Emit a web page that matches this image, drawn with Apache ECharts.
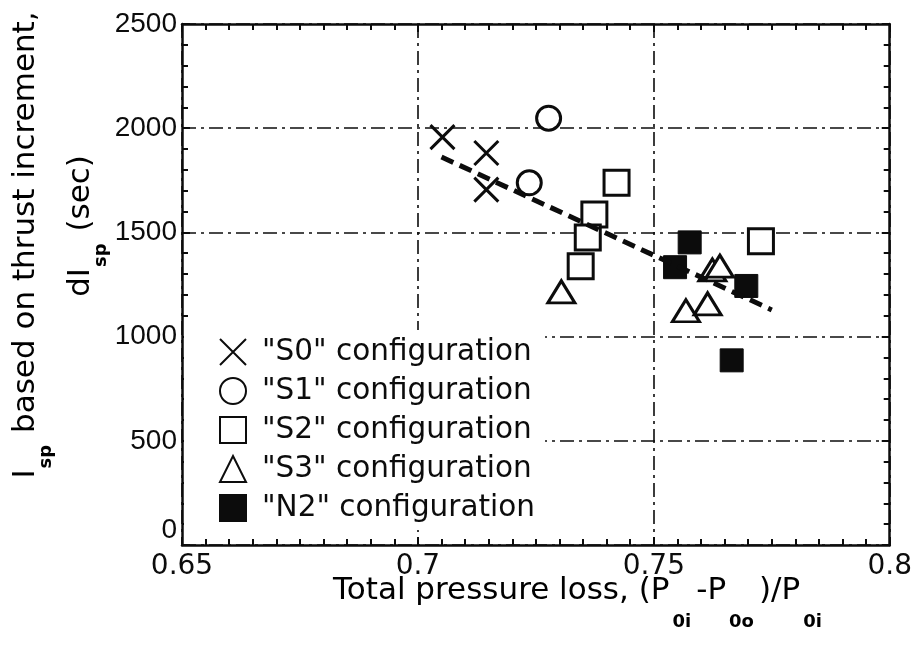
<!DOCTYPE html>
<html>
<head>
<meta charset="utf-8">
<script src="https://cdn.jsdelivr.net/npm/echarts@6/dist/echarts.min.js"></script>
<style>
html,body{margin:0;padding:0;background:#fff;}
#c{width:915px;height:651px;}
</style>
</head>
<body>
<div id="c"></div>
<script>
// ---- data ----
const xTickLabels = ['0.65', '0.7', '0.75', '0.8'];
const yTickLabels = ['0', '500', '1000', '1500', '2000', '2500'];

const s0X = [0.7052, 0.7145, 0.7145];
const s0Y = [1957, 1881, 1705];
const s1X = [0.7277, 0.7236];
const s1Y = [2048, 1738];
const s2X = [0.7421, 0.7374, 0.7360, 0.7345, 0.7727];
const s2Y = [1738, 1586, 1476, 1338, 1457];
const s3X = [0.7304, 0.7568, 0.7614, 0.7624, 0.7640];
const s3Y = [1215, 1124, 1157, 1320, 1338];
const n2X = [0.7576, 0.7545, 0.7696, 0.7665];
const n2Y = [1452, 1333, 1243, 886];
const trendX = [0.705, 0.775];
const trendY = [1862, 1128];

const seriesNames = ['"S0" configuration', '"S1" configuration', '"S2" configuration', '"S3" configuration', '"N2" configuration'];

function pairs(xs, ys) { return xs.map((x, i) => [x, ys[i]]); }

const FONT = '"Liberation Sans", Arial, sans-serif';
const WFONT = '"DejaVu Sans", sans-serif';
const INK = '#0c0c0c';
const crossPath = 'path://M0,0L10,10M10,0L0,10';
const dashDot = [14, 5, 3, 5];

const chart = echarts.init(document.getElementById('c'), null, {renderer: 'canvas'});

const axisCommonX = {
  type: 'value', min: 0.65, max: 0.8, interval: 0.05,
  axisLine: {show: true, onZero: false, lineStyle: {color: INK, width: 2.5}},
  axisTick: {show: true, inside: true, length: 8, lineStyle: {color: INK, width: 2}},
  minorTick: {show: true, splitNumber: 10, length: 6, lineStyle: {color: INK, width: 2}}
};
const axisCommonY = {
  type: 'value', min: 0, max: 2500, interval: 500,
  axisLine: {show: true, onZero: false, lineStyle: {color: INK, width: 2.5}},
  axisTick: {show: true, inside: true, length: 8, lineStyle: {color: INK, width: 2}},
  minorTick: {show: true, splitNumber: 5, length: 6, lineStyle: {color: INK, width: 2}}
};

const subStyle = {fontFamily: WFONT, fontSize: 18, fontWeight: 'bold', color: INK, lineHeight: 18, verticalAlign: 'top'};
const mainStyle = {fontFamily: WFONT, fontSize: 31, color: INK, lineHeight: 34, verticalAlign: 'top'};

const option = {
  backgroundColor: '#fff',
  animation: false,
  grid: {left: 182, right: 25, top: 24, bottom: 106, containLabel: false},
  xAxis: [
    Object.assign({}, axisCommonX, {
      position: 'bottom',
      axisLabel: {
        show: true, margin: 8, color: INK, fontFamily: WFONT, fontSize: 28,
        formatter: v => {
          const i = Math.round((v - 0.65) / 0.05);
          return xTickLabels[i] !== undefined ? xTickLabels[i] : '';
        }
      },
      splitLine: {show: true, lineStyle: {color: INK, width: 1.6, type: dashDot}}
    }),
    Object.assign({}, axisCommonX, {
      position: 'top',
      axisLabel: {show: false},
      splitLine: {show: false}
    })
  ],
  yAxis: [
    Object.assign({}, axisCommonY, {
      position: 'left',
      axisLabel: {
        show: true, margin: 5, color: INK, fontFamily: FONT, fontSize: 28,
        formatter: v => {
          const i = Math.round(v / 500);
          const t = yTickLabels[i] !== undefined ? yTickLabels[i] : '';
          return i === 0 ? '{z|' + t + '}' : t;
        },
        rich: {z: {fontFamily: FONT, fontSize: 28, color: INK, padding: [0, 0, 30, 0]}}
      },
      splitLine: {show: true, lineStyle: {color: INK, width: 1.6, type: dashDot}}
    }),
    Object.assign({}, axisCommonY, {
      position: 'right',
      axisLabel: {show: false},
      splitLine: {show: false}
    })
  ],
  legend: {
    show: true,
    data: seriesNames,
    orient: 'vertical',
    left: 184, top: 330,
    padding: [6, 10, 6, 35],
    itemGap: 7,
    itemWidth: 26, itemHeight: 26,
    backgroundColor: '#fff',
    textStyle: {fontFamily: WFONT, fontSize: 29.5, color: INK, lineHeight: 32, padding: [0, 0, 0, 11]},
    selectedMode: false
  },
  graphic: [
    {
      type: 'text', x: 10, y: 245, rotation: Math.PI / 2, silent: true,
      style: {
        text: '{a|I}{s|sp}{a| based on thrust increment,}',
        align: 'center', verticalAlign: 'top',
        rich: {a: mainStyle, s: Object.assign({}, subStyle, {padding: [27, 2, 0, 1]})}
      }
    },
    {
      type: 'text', x: 65, y: 226, rotation: Math.PI / 2, silent: true,
      style: {
        text: '{a|dI}{s|sp}{a| (sec)}',
        align: 'center', verticalAlign: 'top',
        rich: {a: mainStyle, s: Object.assign({}, subStyle, {padding: [27, 2, 0, 1]})}
      }
    },
    {
      type: 'text', x: 580, y: 575, silent: true,
      style: {
        text: '{a|Total pressure loss, (P}{s|0i}{a|-P}{s|0o}{a|)/P}{s|0i}',
        align: 'center', verticalAlign: 'top',
        rich: {a: mainStyle, s: Object.assign({}, subStyle, {padding: [38, 5, 0, 3]})}
      }
    }
  ],
  series: [
    {
      name: seriesNames[0], type: 'scatter', data: pairs(s0X, s0Y),
      symbol: crossPath, symbolSize: 24,
      itemStyle: {color: 'rgba(0,0,0,0)', borderColor: INK, borderWidth: 3, opacity: 1}, z: 3
    },
    {
      name: seriesNames[1], type: 'scatter', data: pairs(s1X, s1Y),
      symbol: 'circle', symbolSize: 24,
      itemStyle: {color: '#fff', borderColor: INK, borderWidth: 3, opacity: 1}, z: 3
    },
    {
      name: seriesNames[2], type: 'scatter', data: pairs(s2X, s2Y),
      symbol: 'rect', symbolSize: 25,
      itemStyle: {color: '#fff', borderColor: INK, borderWidth: 3, opacity: 1}, z: 3
    },
    {
      name: seriesNames[3], type: 'scatter', data: pairs(s3X, s3Y),
      symbol: 'triangle', symbolSize: [27, 22],
      itemStyle: {color: '#fff', borderColor: INK, borderWidth: 3, opacity: 1}, z: 3
    },
    {
      name: seriesNames[4], type: 'scatter', data: pairs(n2X, n2Y),
      symbol: 'rect', symbolSize: 23,
      itemStyle: {color: INK, borderColor: INK, borderWidth: 1, opacity: 1}, z: 4
    },
    {
      name: 'trend', type: 'line', data: pairs(trendX, trendY),
      symbol: 'none', silent: true,
      lineStyle: {color: INK, width: 5, type: [13, 7]}, z: 5
    }
  ]
};
chart.setOption(option);
</script>
</body>
</html>
